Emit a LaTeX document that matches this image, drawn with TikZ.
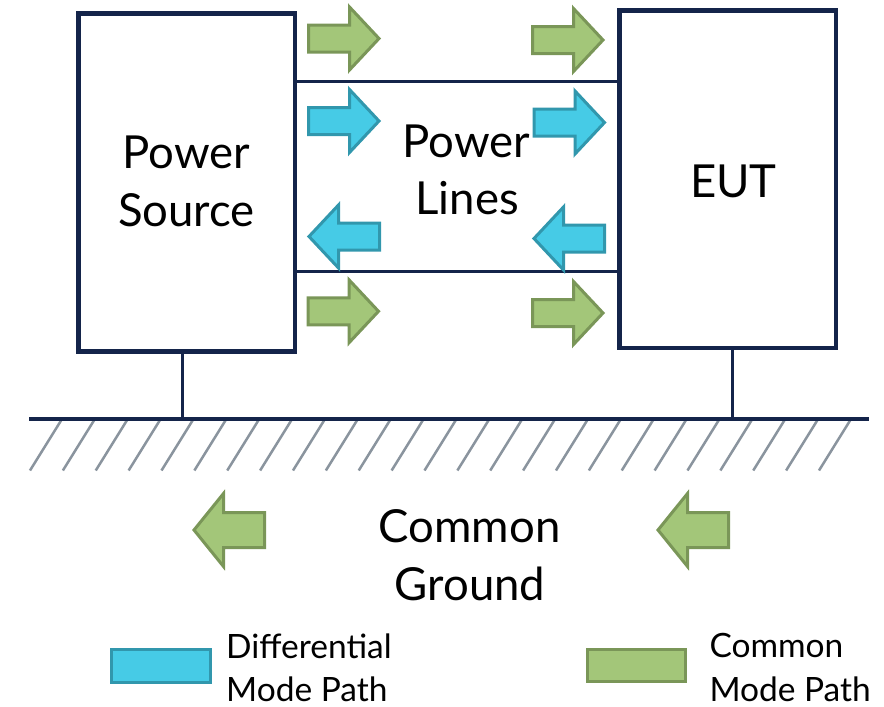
\documentclass[tikz,border=0pt]{standalone}
\usepackage{fontspec}
\setmainfont{Lato}

\definecolor{navy}{HTML}{14244A}
\definecolor{hatchgray}{HTML}{8A949E}
\definecolor{cmfill}{HTML}{A3C679}
\definecolor{cmborder}{HTML}{7A9658}
\definecolor{dmfill}{HTML}{46CBE6}
\definecolor{dmborder}{HTML}{3197AD}

% block arrow: style, tail x, centre y, direction (+1 right / -1 left), head half-height, shaft half-height
\newcommand\fatarrow[6]{%
  \draw[#1, shift={(#2,#3)}, xscale=#4]
    (0,-#6) -- (41,-#6) -- (41,-#5) -- (70.5,0) -- (41,#5) -- (41,#6) -- (0,#6) -- cycle;}

\begin{document}
\begin{tikzpicture}[x=1pt,y=-1pt,
  box/.style={draw=navy, line width=4.5pt, minimum width=216.5pt, minimum height=337.6pt, inner sep=0pt},
  wire/.style={draw=navy, line width=3pt},
  hatch/.style={draw=hatchgray, line width=2.5pt},
  cmpath/.style={draw=cmborder, fill=cmfill, line width=3pt, line join=miter},
  dmpath/.style={draw=dmborder, fill=dmfill, line width=3pt, line join=miter},
  big/.style={font=\fontsize{45.5}{54}\selectfont, inner sep=0pt, anchor=base},
  small/.style={font=\fontsize{33.5}{40}\selectfont, inner sep=0pt, anchor=base west},
]
\useasboundingbox (0,0) rectangle (884,707);

% source and equipment under test
\node[box] (ps)  at (186.65,182.5) {};
\node[box] (eut) at (727.5,179.15) {};

% power lines between the two boxes
\coordinate (lineA) at (0,81);
\coordinate (lineB) at (0,271);
\draw[wire] (ps.east |- lineA) -- (eut.west |- lineA);
\draw[wire] (ps.east |- lineB) -- (eut.west |- lineB);

% ground plane with hatching
\foreach \i in {0,...,24}{
  \draw[hatch] ({62+32.875*\i},419) -- ({30+32.875*\i},470.5);
}
\coordinate (gl) at (29,419);
\coordinate (gr) at (869,419);
\draw[navy, line width=3.5pt] (gl) -- (gr);

% earth connections
\coordinate (g1) at (182,419);
\coordinate (g2) at (732,419);
\draw[wire] (ps.south -| g1) -- (g1);
\draw[wire] (eut.south -| g2) -- (g2);

% common-mode and differential-mode current arrows
\fatarrow{cmpath}{308.5}{38.5}{1}{31.5}{13.5}
\fatarrow{cmpath}{532.5}{40}{1}{31.5}{13.5}
\fatarrow{dmpath}{308.5}{121}{1}{31.5}{13.5}
\fatarrow{dmpath}{534}{122.5}{1}{31.5}{13.5}
\fatarrow{dmpath}{379.5}{236.5}{-1}{31.5}{13.5}
\fatarrow{dmpath}{604.5}{238.5}{-1}{31.5}{13.5}
\fatarrow{cmpath}{308}{311.3}{1}{31.5}{13.5}
\fatarrow{cmpath}{532.5}{313}{1}{31.5}{13.5}
\fatarrow{cmpath}{264.5}{530}{-1}{36.5}{17.5}
\fatarrow{cmpath}{728.5}{530}{-1}{36.5}{17.5}

% labels
\node[big] (ps1) at (186.5,168) {Power};
\node[big] (ps2) at (186.5,226) {Source};
\node[big] (pl1) at (466.5,157) {Power};
\node[big] (pl2) at (467,214) {Lines};
\node[big] (eutl) at (733.5,197) {EUT};
\node[big] (cg1) at (469.5,542) {Common};
\node[big] (cg2) at (470,600) {Ground};

% legend
\draw[dmpath] (111.5,649.8) rectangle (210.2,682.8);
\draw[cmpath] (587.5,649.2) rectangle (685.8,681.2);
\node[small] (lg1) at (226,658) {Differential};
\node[small] (lg2) at (226,701) {Mode Path};
\node[small] (lg3) at (709.3,657.3) {Common};
\node[small] (lg4) at (709.3,701) {Mode Path};
\end{tikzpicture}
\end{document}
